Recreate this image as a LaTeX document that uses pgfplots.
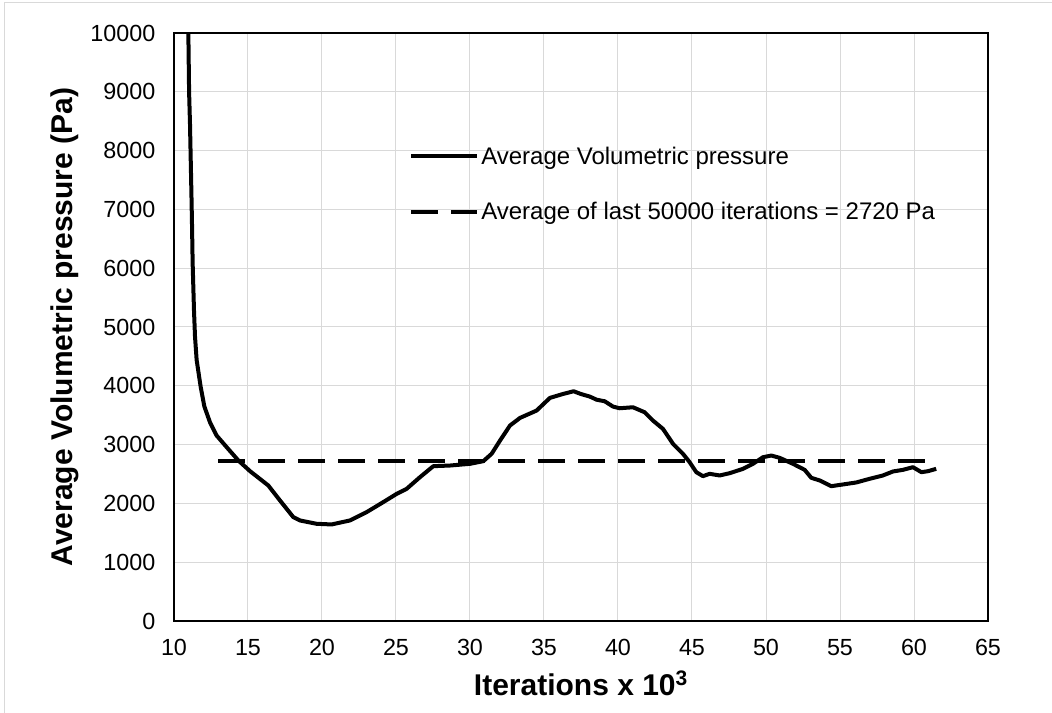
\documentclass[border=0pt]{standalone}
\usepackage{fontspec}
\setmainfont{Liberation Sans}
\usepackage{pgfplots}
\pgfplotsset{compat=1.18}
\definecolor{gridgray}{HTML}{D9D9D9}
\definecolor{framegray}{HTML}{D9D9D9}
\begin{document}
\begin{tikzpicture}
\useasboundingbox (-130.5pt,-69pt) rectangle (658.5pt,465.75pt);
\draw[framegray, line width=0.75pt] (-126.75pt,-69pt) -- (-126.75pt,463.5pt) -- (658.5pt,463.5pt);
\begin{axis}[
  scale only axis,
  width=610.5pt, height=441pt,
  xmin=10, xmax=65, ymin=0, ymax=10000,
  xtick={10,15,...,65},
  ytick={0,1000,...,10000},
  grid=major,
  major grid style={gridgray, line width=0.75pt},
  major tick length=0pt,
  axis line style={black, line width=1pt},
  /pgf/number format/assume math mode=true,
  scaled y ticks=false,
  yticklabel style={/pgf/number format/fixed, /pgf/number format/1000 sep={}, font=\fontsize{17.5}{21}\selectfont, xshift=-10.5pt},
  xticklabel style={font=\fontsize{17.5}{21}\selectfont, yshift=-10pt},
  xlabel={\textbf{Iterations x 10\textsuperscript{3}}},
  ylabel={\textbf{Average Volumetric pressure (Pa)}},
  xlabel style={font=\fontsize{22.5}{26}\selectfont, at={(axis description cs:0.5,-0.1066)}, anchor=center},
  ylabel style={font=\fontsize{22.5}{26}\selectfont, at={(axis description cs:-0.134,0.5)}, anchor=center},
  legend style={at={(axis description cs:0.2887,0.743)}, anchor=west, draw=none, fill=none,
    font=\fontsize{18}{21.6}\selectfont, row sep=23pt, inner sep=0pt},
  legend cell align=left,
  legend image code/.code={\draw[#1] (0pt,0pt) -- (49pt,0pt);},
  clip=true,
]
\addplot[black, line width=3pt, line join=round] coordinates {
(10.97,10000) (11.02,9000) (11.08,8464) (11.19,7109) (11.22,6700) (11.26,6088)
(11.35,5289) (11.42,4835) (11.53,4439) (11.80,3985) (12.05,3650) (12.43,3380)
(12.88,3154) (13.56,2956) (14.35,2729) (15.14,2548) (16.37,2305) (17.16,2050)
(18.06,1767) (18.51,1710) (19.64,1653) (20.65,1642) (21.89,1710) (23.02,1852)
(24.14,2022) (25.05,2163) (25.72,2248) (26.62,2446) (27.52,2633) (28.65,2644)
(30.0,2673) (30.9,2718) (31.46,2843) (32.03,3069) (32.7,3324) (33.38,3454)
(34.5,3579) (35.4,3794) (36.3,3862) (37.0,3907) (37.5,3860) (38.09,3817)
(38.56,3763) (39.1,3737) (39.66,3647) (40.11,3618) (41.01,3635) (41.8,3550)
(42.36,3409) (43.04,3267) (43.72,3012) (44.39,2843) (44.84,2701) (45.29,2531)
(45.74,2463) (46.19,2503) (46.87,2475) (47.55,2514) (48.45,2588) (49.12,2673)
(49.8,2786) (50.36,2814) (50.92,2775) (51.82,2673) (52.61,2571) (53.06,2435)
(53.63,2390) (54.41,2293) (55.2,2322) (56.1,2356) (57.0,2418) (57.9,2475)
(58.58,2543) (59.26,2571) (59.93,2616) (60.5,2531) (60.95,2548) (61.5,2588)
};
\addlegendentry{Average Volumetric pressure}
\addplot[black, line width=3pt, dash pattern=on 20pt off 10pt] coordinates {
(13.0,2720) (61.55,2720)
};
\addlegendentry{Average of last 50000 iterations = 2720 Pa}
\end{axis}
\end{tikzpicture}
\end{document}
